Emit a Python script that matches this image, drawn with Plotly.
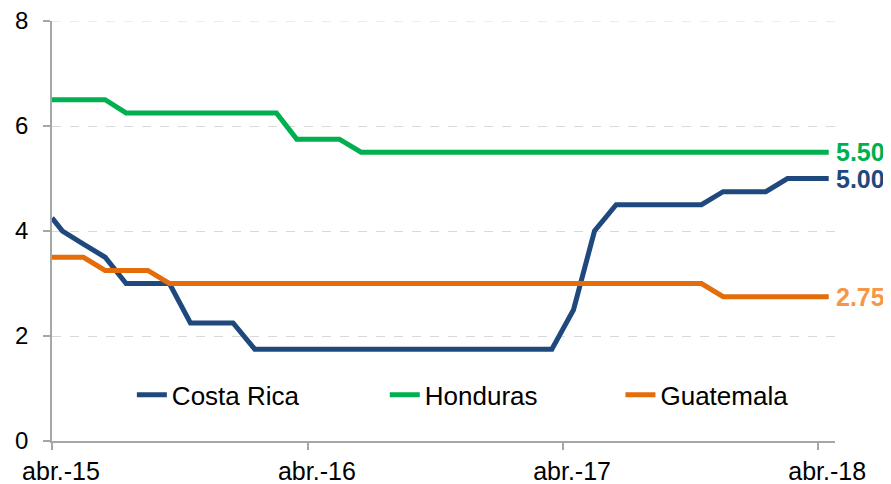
import plotly.graph_objects as go
import pandas as pd

# x: first observation on 1 Apr 2015, then mid-month observations Apr-2015 .. Apr-2018
month_starts = pd.date_range("2015-04-01", "2018-04-01", freq="MS")
dates = ["2015-04-01"] + [(d + pd.Timedelta(days=15)).strftime("%Y-%m-%d") for d in month_starts]

costa_rica = [4.25,
              4.0, 3.75, 3.5, 3.0, 3.0, 3.0, 2.25, 2.25, 2.25, 1.75,
              1.75, 1.75, 1.75, 1.75, 1.75, 1.75, 1.75, 1.75, 1.75, 1.75,
              1.75, 1.75, 1.75, 1.75, 2.5, 4.0, 4.5, 4.5, 4.5, 4.5,
              4.5, 4.75, 4.75, 4.75, 5.0, 5.0, 5.0]
honduras = [6.5,
            6.5, 6.5, 6.5, 6.25, 6.25, 6.25, 6.25, 6.25, 6.25, 6.25,
            6.25, 5.75, 5.75, 5.75, 5.5, 5.5, 5.5, 5.5, 5.5, 5.5,
            5.5, 5.5, 5.5, 5.5, 5.5, 5.5, 5.5, 5.5, 5.5, 5.5,
            5.5, 5.5, 5.5, 5.5, 5.5, 5.5, 5.5]
guatemala = [3.5,
             3.5, 3.5, 3.25, 3.25, 3.25, 3.0, 3.0, 3.0, 3.0, 3.0,
             3.0, 3.0, 3.0, 3.0, 3.0, 3.0, 3.0, 3.0, 3.0, 3.0,
             3.0, 3.0, 3.0, 3.0, 3.0, 3.0, 3.0, 3.0, 3.0, 3.0,
             3.0, 2.75, 2.75, 2.75, 2.75, 2.75, 2.75]

series_names = ["Costa Rica", "Honduras", "Guatemala"]
series_values = [costa_rica, honduras, guatemala]
series_colors = ["#1F497D", "#00B050", "#E46C0A"]
label_colors = ["#1F497D", "#00B050", "#F79646"]
legend_ids = ["legend", "legend2", "legend3"]
legend_x = [0.102, 0.425, 0.726]

x_tick_vals = ["2015-04-01", "2016-04-01", "2017-04-01", "2018-04-01"]
x_tick_text = ["abr.-15", "abr.-16", "abr.-17", "abr.-18"]
y_tick_vals = [0, 2, 4, 6, 8]
y_max = 8

FONT = "Liberation Sans, Arial, sans-serif"

fig = go.Figure()
for name, vals, col, lg in zip(series_names, series_values, series_colors, legend_ids):
    fig.add_trace(go.Scatter(x=dates, y=vals, mode="lines", name=name, legend=lg,
                             line=dict(color=col, width=5)))

for vals, col in zip(series_values, label_colors):
    fig.add_annotation(x=dates[-1], y=vals[-1], text="<b>%.2f</b>" % vals[-1],
                       showarrow=False, xanchor="left", yanchor="middle", xshift=5,
                       font=dict(family=FONT, size=25, color=col))

# top gridline (plotly skips the gridline at the range edge)
fig.add_shape(type="line", xref="paper", x0=0, x1=1, yref="y", y0=y_max, y1=y_max,
              line=dict(color="#D9D9D9", width=1, dash="dash"), layer="below")

legend_common = dict(orientation="h", y=0.11, xanchor="left", yanchor="middle",
                     font=dict(family=FONT, size=26, color="#000000"),
                     bgcolor="rgba(0,0,0,0)")

# page body has an 8px margin, so margins are offset accordingly
fig.update_layout(
    width=891, height=484,
    margin=dict(l=44, r=64, t=13, b=51),
    plot_bgcolor="white", paper_bgcolor="white",
    font=dict(family=FONT, size=24, color="#000000"),
    showlegend=True,
    legend=dict(x=legend_x[0], **legend_common),
    legend2=dict(x=legend_x[1], **legend_common),
    legend3=dict(x=legend_x[2], **legend_common),
    xaxis=dict(type="date", range=["2015-04-01", "2018-04-25"], automargin=False,
               tickvals=x_tick_vals, ticktext=x_tick_text,
               showgrid=False, showline=True, linecolor="#A6A6A6", linewidth=1.5,
               ticks="outside", ticklen=7, tickcolor="#A6A6A6", tickwidth=1.5,
               ticklabelshift=9, ticklabeloverflow="allow",
               tickfont=dict(family=FONT, size=25, color="#000000")),
    yaxis=dict(range=[0, y_max], tickvals=y_tick_vals, automargin=False,
               showgrid=True, gridcolor="#D9D9D9", griddash="dash", gridwidth=1,
               zeroline=False,
               showline=True, linecolor="#A6A6A6", linewidth=1.5,
               ticks="outside", ticklen=7, tickcolor="#A6A6A6", tickwidth=1.5,
               ticklabelstandoff=10, ticklabeloverflow="allow",
               tickfont=dict(family=FONT, size=24, color="#000000")),
)

fig.write_html("out.html")
